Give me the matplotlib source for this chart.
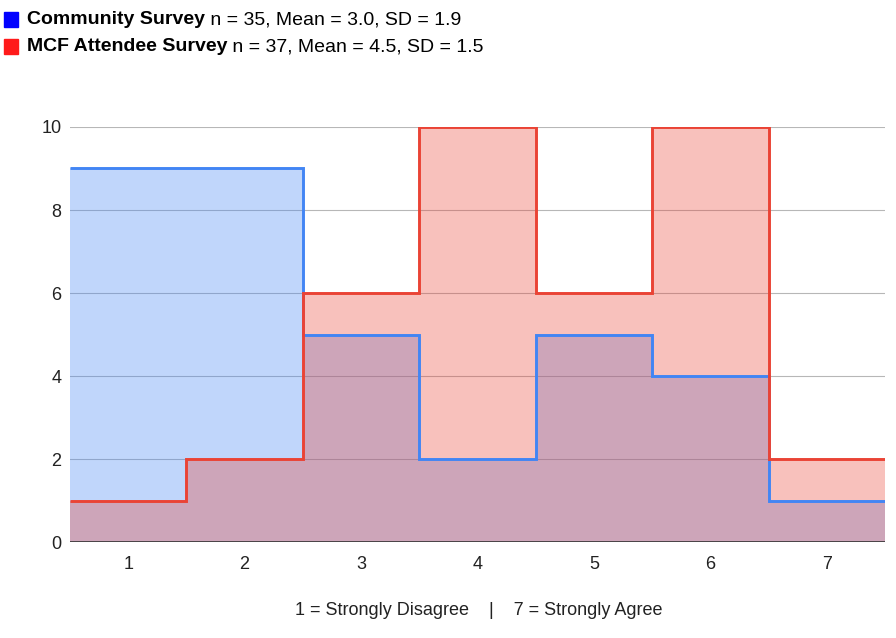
import matplotlib
matplotlib.use('Agg')
import numpy as np
import matplotlib.pyplot as plt

plt.rcParams['font.family'] = ['Liberation Sans', 'DejaVu Sans']

# Risposte per punteggio (1 = Strongly Disagree ... 7 = Strongly Agree)
scores = [1, 2, 3, 4, 5, 6, 7]
community = [9, 9, 5, 2, 5, 4, 1]
mcf = [1, 2, 6, 10, 6, 10, 2]
community_label = ("Community Survey", " n = 35, Mean = 3.0, SD = 1.9")
mcf_label = ("MCF Attendee Survey", " n = 37, Mean = 4.5, SD = 1.5")

blue = "#4285F4"
red = "#EA4335"

fig = plt.figure(figsize=(8.96, 6.38), dpi=100)
ax = fig.add_axes([0.078, 0.150, 0.910, 0.651])

edges = np.arange(len(scores) + 1) + 0.5
ax.stairs(community, edges, fill=True, baseline=0, color=blue, alpha=0.33, lw=0, zorder=2)
ax.stairs(mcf, edges, fill=True, baseline=0, color=red, alpha=0.33, lw=0, zorder=3)
ax.stairs(community, edges, baseline=None, color=blue, lw=2.1, zorder=4)
ax.stairs(mcf, edges, baseline=None, color=red, lw=2.1, zorder=5)

ax.set_xlim(0.5, 7.5)
ax.set_ylim(0, 10)
ax.set_xticks(scores)
ax.set_yticks([0, 2, 4, 6, 8, 10])
ax.grid(axis='y', color='#b7b7b7', lw=0.8, zorder=1)
ax.axhline(0, color='#333333', lw=1.2, zorder=6)
for s in ax.spines.values():
    s.set_visible(False)
ax.tick_params(length=0, labelsize=13, colors='#222222')
ax.tick_params(axis='x', pad=10)
ax.tick_params(axis='y', pad=6)

fig.text(0.534, 0.043, "1 = Strongly Disagree    |    7 = Strongly Agree",
         ha='center', va='center', fontsize=13, color='#222222')

# Legenda manuale
for i, ((bold, rest), col) in enumerate([(community_label, '#0000FF'), (mcf_label, '#FF1A1A')]):
    y = 0.969 - i * 0.042
    fig.patches.append(plt.Rectangle((0.005, y - 0.012), 0.015, 0.024,
                                     transform=fig.transFigure, color=col, figure=fig))
    t = fig.text(0.030, y, bold, fontsize=14, fontweight='bold', va='center', ha='left')
    fig.canvas.draw()
    bb = t.get_window_extent()
    x2 = bb.x1 / fig.bbox.width
    fig.text(x2, y, rest, fontsize=14, va='center', ha='left')

plt.savefig("out.png", dpi=100)
